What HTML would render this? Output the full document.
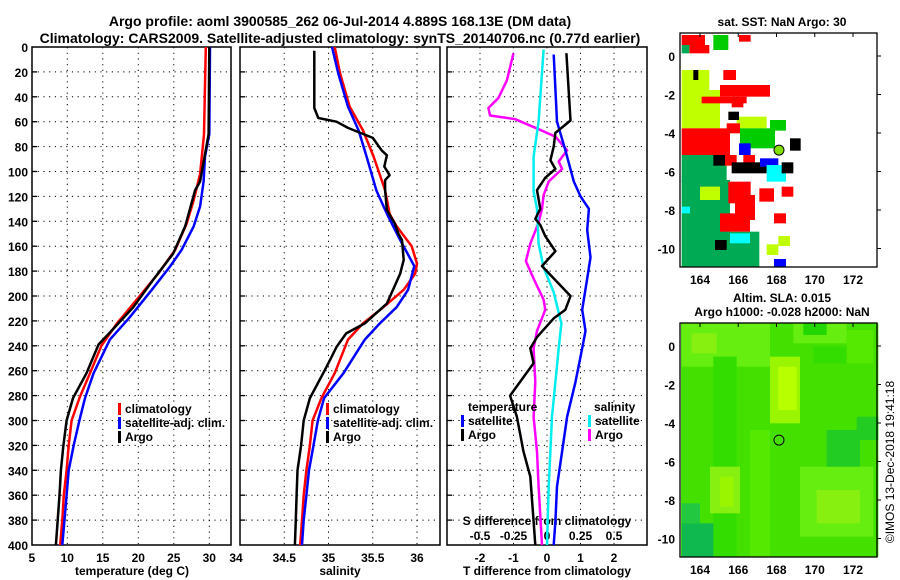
<!DOCTYPE html>
<html><head><meta charset="utf-8">
<style>
html,body{margin:0;padding:0;background:#fff;}
svg{display:block;font-family:"Liberation Sans",sans-serif;font-weight:bold;}
</style></head>
<body>
<svg id="c" width="900" height="580" viewBox="0 0 900 580">
<text x="340" y="26" text-anchor="middle" font-size="14">Argo profile: aoml 3900585_262 06-Jul-2014 4.889S 168.13E (DM data)</text>
<text x="340" y="43" text-anchor="middle" font-size="14">Climatology: CARS2009. Satellite-adjusted climatology: synTS_20140706.nc (0.77d earlier)</text>
<text x="132" y="575" text-anchor="middle" font-size="12">temperature (deg C)</text>
<text x="340" y="575" text-anchor="middle" font-size="12">salinity</text>
<text x="547" y="575" text-anchor="middle" font-size="12">T difference from climatology</text>
<text x="547" y="525" text-anchor="middle" font-size="12">S difference from climatology</text>
<text x="782" y="26" text-anchor="middle" font-size="12">sat. SST: NaN Argo: 30</text>
<text x="782" y="302" text-anchor="middle" font-size="12">Altim. SLA: 0.015</text>
<text x="782" y="316" text-anchor="middle" font-size="12">Argo h1000: -0.028 h2000: NaN</text>
<text x="0" y="0" transform="translate(894,462) rotate(-90)" text-anchor="middle" font-size="12" font-weight="normal">©IMOS 13-Dec-2018 19:41:18</text>
</svg>
<script>
// ---------- data ----------
const depthTicks=[0,20,40,60,80,100,120,140,160,180,200,220,240,260,280,300,320,340,360,380,400];
const tempTicks=[5,10,15,20,25,30];
const salTicks=[34,34.5,35,35.5,36];
const tdiffTicks=[-2,-1,0,1,2];
const sdiffTicks=[-0.5,-0.25,0,0.25,0.5];
const sdiffLabels=["-0.5","-0.25","0","0.25","0.5"];

const tClimDepth=[0,70,102,123,142,163,182,200,222,240,262,282,300,320,340,360,380,400];
const tClim=[29.5,29.25,28.7,27.8,26.8,25.2,22.8,20.2,17.0,14.8,13.2,11.7,10.6,10.2,9.9,9.5,9.3,9.0];
const tArgoDepth=[0,70,108,115,144,166,187,209,225,239,262,282,300,320,340,360,380,400];
const tArgo=[30.0,29.9,28.7,28.0,26.6,24.9,22.1,19.3,16.7,14.4,12.7,10.8,9.9,9.45,9.1,8.9,8.65,8.4];
const tSatDepth=[0,70,88,108,128,144,163,176,195,217,235,262,282,300,320,340,360,380,400];
const tSat=[30.1,30.0,29.4,29.2,28.7,27.8,26.1,24.5,21.9,18.8,16.0,13.7,12.5,11.7,10.9,10.2,9.9,9.6,9.3];

const sClimDepth=[0,21,48,67,88,115,134,144,160,174,182,195,209,222,235,262,282,300,320,340,360,380,400];
const sClim=[35.07,35.13,35.24,35.39,35.51,35.64,35.69,35.77,35.94,36.0,35.98,35.85,35.62,35.39,35.22,35.07,34.92,34.82,34.79,34.75,34.72,34.70,34.68];
const sSatDepth=[0,21,48,67,88,115,134,155,176,195,209,222,235,262,282,300,320,340,360,380,400];
const sSat=[35.04,35.11,35.22,35.34,35.43,35.54,35.66,35.81,35.97,35.9,35.77,35.58,35.41,35.17,34.95,34.88,34.83,34.78,34.75,34.72,34.70];
const sArgoDepth=[3,49,57,60,65,73,83,87,96,103,107,115,131,142,150,155,171,182,206,222,230,241,251,262,282,300,320,340,360,380,400];
const sArgo=[34.84,34.84,34.885,35.09,35.22,35.5,35.6,35.66,35.63,35.69,35.64,35.64,35.66,35.75,35.79,35.83,35.85,35.81,35.66,35.41,35.2,35.09,35.02,34.94,34.79,34.72,34.69,34.65,34.64,34.63,34.62];

const dTArgoDepth=[5,59,69,80,91,98,105,115,130,138,143,152,164,176,200,211,218,233,242,254,280,297,325,345,381,400];
const dTArgo=[0.58,0.7,0.25,0.2,0.1,0.25,-0.05,-0.3,-0.2,-0.35,-0.2,-0.05,0.25,-0.15,0.7,0.55,0.2,-0.3,-0.5,-0.4,-1.1,-0.9,-0.7,-0.5,-0.4,-0.35];
const dTSatDepth=[6,60,83,108,120,130,147,169,186,211,228,242,269,297,325,353,381,400];
const dTSat=[0.2,0.3,0.55,0.8,1.0,1.25,1.2,1.3,1.2,1.05,1.15,1.05,0.85,0.6,0.45,0.3,0.25,0.2];
const dSSatDepth=[2,60,88,116,130,158,177,197,222,242,269,297,353,400];
const dSSat=[-0.025,-0.0625,-0.1,-0.1,-0.075,-0.0625,-0.025,0.05,0.1075,0.0875,0.0625,0.0375,0.0125,0];
const dSArgoDepth=[5,27,41,49,55,58,66,72,83,92,98,108,119,130,141,158,172,186,203,211,228,242,269,297,325,353,400];
const dSArgo=[-0.25,-0.3,-0.3625,-0.4375,-0.425,-0.2375,-0.0625,0.0625,0.15,0.0875,0.1125,0.0125,-0.025,-0.0375,-0.0625,-0.125,-0.1575,-0.1,-0.025,-0.0125,-0.075,-0.1,-0.0875,-0.1,-0.075,-0.0625,-0.0375];

const lonTicks=[164,166,168,170,172];
const latTicks=[0,-2,-4,-6,-8,-10];
const argoLon=168.13, argoLat=-4.889;

// ---------- helpers ----------
const svg=document.getElementById('c');
const NS='http://www.w3.org/2000/svg';
function mk(tag,attrs){const e=document.createElementNS(NS,tag);for(const k in attrs)e.setAttribute(k,attrs[k]);svg.appendChild(e);return e;}
const PT=47,PB=545;
function yD(d){return PT+(PB-PT)*d/400;}
function lin(d0,d1,r0,r1){return v=>r0+(v-d0)*(r1-r0)/(d1-d0);}

function panel(name,x0,x1,xs,ticks,labels,showY){
  for(const t of depthTicks){
    if(t>0&&t<400){
      const g=mk('line',{x1:x0,x2:x1,y1:yD(t),y2:yD(t),stroke:'#000','stroke-width':1,'stroke-dasharray':'1.2,4.5'});
      
      
      const tk=mk('line',{x1:x0,x2:x0+5,y1:yD(t),y2:yD(t),stroke:'#000','stroke-width':1.3});
      
      
    }
    if(showY){
      const l=mk('text',{x:28,y:yD(t)+5,'text-anchor':'end','font-size':12});
      l.textContent=t;
      
      
    }
  }
  ticks.forEach((t,i)=>{
    const x=xs(t);
    if(x>x0+1&&x<x1-1){
      const g=mk('line',{x1:x,x2:x,y1:PT,y2:PB,stroke:'#000','stroke-width':1,'stroke-dasharray':'1.2,4.5'});
      
      
    }
    if(labels){
      const l=mk('text',{x:x,y:562,'text-anchor':'middle','font-size':12});
      l.textContent=labels[i];
      
      
    }
  });
  const f=mk('rect',{x:x0,y:PT,width:x1-x0,height:PB-PT,fill:'none',stroke:'#000','stroke-width':1.5});
  
  
}
function line(name,xs,vals,depths,color,w){
  const pts=vals.map((v,i)=>xs(v).toFixed(1)+','+yD(depths[i]).toFixed(1)).join(' ');
  const p=mk('polyline',{points:pts,fill:'none',stroke:color,'stroke-width':w,'stroke-linejoin':'round'});
  
  
}
function legend(name,x,y,color,text){
  const b=mk('rect',{x:x,y:y-10,width:3,height:12,fill:color});
  
  
  const t=mk('text',{x:x+7,y:y,'font-size':12});
  t.textContent=text;
  
  
}

// panel 1 temperature
const xT=lin(5,33,31.8,230.6);
panel('temperature-panel',32,231,xT,tempTicks,tempTicks.map(String),true);
const l35=mk('text',{x:236,y:562,'text-anchor':'middle','font-size':12});l35.textContent='34';


line('temp-climatology-line',xT,tClim,tClimDepth,'#f00',2.5);
line('temp-satellite-line',xT,tSat,tSatDepth,'#00f',2.5);
line('temp-argo-line',xT,tArgo,tArgoDepth,'#000',2.5);
legend('temp-legend-climatology',118,413,'#f00','climatology');
legend('temp-legend-satellite',118,427,'#00f','satellite-adj. clim.');
legend('temp-legend-argo',118,441,'#000','Argo');

// panel 2 salinity
const xS=lin(34,36,240,417);
panel('salinity-panel',240,440,xS,salTicks,null,false);
salTicks.slice(1).forEach(t=>{const l=mk('text',{x:xS(t),y:562,'text-anchor':'middle','font-size':12});l.textContent=String(t);

});
line('sal-climatology-line',xS,sClim,sClimDepth,'#f00',2.5);
line('sal-satellite-line',xS,sSat,sSatDepth,'#00f',2.5);
line('sal-argo-line',xS,sArgo,sArgoDepth,'#000',2.5);
legend('sal-legend-climatology',326,413,'#f00','climatology');
legend('sal-legend-satellite',326,427,'#00f','satellite-adj. clim.');
legend('sal-legend-argo',326,441,'#000','Argo');

// panel 3 differences
const xDT=lin(-3,3,446.5,647.5);
const xDS=lin(-0.75,0.75,446.5,647.5);
panel('difference-panel',447,647,xDT,tdiffTicks,tdiffTicks.map(String),false);
sdiffTicks.forEach((t,i)=>{const l=mk('text',{x:xDS(t),y:540,'text-anchor':'middle','font-size':12});l.textContent=sdiffLabels[i];

});
line('sdiff-argo-line',xDS,dSArgo,dSArgoDepth,'#f0f',2.5);
line('sdiff-satellite-line',xDS,dSSat,dSSatDepth,'#0ee',2.5);
line('tdiff-satellite-line',xDT,dTSat,dTSatDepth,'#00f',2.5);
line('tdiff-argo-line',xDT,dTArgo,dTArgoDepth,'#000',2.5);
const lt=mk('text',{x:468,y:411,'font-size':12});lt.textContent='temperature';


const ls=mk('text',{x:594,y:411,'font-size':12});ls.textContent='salinity';


legend('tdiff-legend-satellite',461,425,'#00f','satellite');
legend('tdiff-legend-argo',461,439,'#000','Argo');
legend('sdiff-legend-satellite',588,425,'#0ee','satellite');
legend('sdiff-legend-argo',588,439,'#f0f','Argo');

// ---------- maps ----------
function mapAxes(name,y0,y1){
  const xL=lin(164,172,700,853);
  const yL=lin(0,-10,y0+23,y0+23+192.5);
  return {xL,yL,draw(){
    lonTicks.forEach(t=>{
      const tk=mk('line',{x1:xL(t),x2:xL(t),y1:y0,y2:y0+4,stroke:'#000','stroke-width':1});
      
      
      const l=mk('text',{x:xL(t),y:y1+17,'text-anchor':'middle','font-size':12});l.textContent=t;
      
      
    });
    latTicks.forEach(t=>{
      const tk=mk('line',{x1:877,x2:881,y1:yL(t),y2:yL(t),stroke:'#000','stroke-width':1});
      
      
      const l=mk('text',{x:675,y:yL(t)+5,'text-anchor':'end','font-size':12});l.textContent=t;
      
      
    });
    const f=mk('rect',{x:680,y:y0,width:197,height:y1-y0,fill:'none',stroke:'#000','stroke-width':1.3});
    
    
  }};
}
// SST map cells (zoom coords of reference, /3)
const R='#f00',Y='#c0ff00',G='#00cc00',GG='#00aa55',B='#0000ff',K='#000',C='#00ffff';
const sstCells=[[65,540,210,800,GG],[65,465,200,545,GG],[200,695,298,800,GG],
[65,105,135,135,R],[237,105,272,125,R],[88,135,148,160,R],[160,105,205,150,G],[65,135,88,160,GG],
[65,210,148,270,Y],[65,270,180,330,Y],[180,255,330,290,R],[125,290,260,310,R],[190,210,228,240,R],[215,305,250,322,R],
[65,330,180,385,Y],[230,350,320,385,Y],[65,385,210,465,R],[200,370,240,400,R],[240,385,345,445,G],[330,360,378,392,G],
[237,430,272,465,B],[390,415,422,452,K],[205,335,237,360,K],[100,210,115,240,K],
[160,465,195,497,K],[195,465,230,497,R],[250,465,285,497,R],[215,487,320,520,K],[300,475,355,500,B],[320,495,378,545,C],[365,487,400,520,K],
[205,545,272,610,R],[225,585,285,660,R],[180,640,270,695,R],[298,565,342,605,R],[365,560,400,590,R],[342,640,378,670,R],
[355,708,390,738,Y],[320,733,355,765,Y],[342,777,378,800,B],[165,720,200,750,K],[120,560,180,600,Y],[65,620,90,640,C],[210,700,270,730,C]];
const m1=mapAxes('sst-map',33,267);
sstCells.forEach(c=>{const r=mk('rect',{x:660+c[0]/3,y:c[1]/3,width:(c[2]-c[0])/3,height:(c[3]-c[1])/3,fill:c[4]});

});
m1.draw();
const ap=mk('circle',{cx:m1.xL(argoLon),cy:m1.yL(argoLat),r:5,fill:'#80e000',stroke:'#000','stroke-width':1});



// SLA map
const slaCells=[[63,100,655,800,'#44e000'],[65,100,330,230,'#66ee10'],[95,130,170,190,'#88f010'],[330,200,420,400,'#99f500'],[355,230,410,360,'#b8ff00'],
[400,100,560,160,'#66ee10'],[430,100,500,135,'#22d800'],[160,200,230,800,'#33dd00'],[150,530,240,670,'#88f010'],[180,560,220,650,'#99f500'],
[270,420,330,800,'#55e800'],[420,530,640,740,'#66ee10'],[470,600,600,700,'#88f010'],[500,420,600,530,'#22cc22'],[590,380,655,450,'#22cc22'],
[65,700,160,800,'#10b850'],[65,640,120,700,'#22c840'],[460,170,560,220,'#33dd00'],[560,120,640,220,'#55e800']];
const m2=mapAxes('sla-map',323,557);
slaCells.forEach(c=>{const r=mk('rect',{x:660+c[0]/3,y:290+c[1]/3,width:(c[2]-c[0])/3,height:(c[3]-c[1])/3,fill:c[4]});

});
m2.draw();
const ap2=mk('circle',{cx:m2.xL(argoLon),cy:m2.yL(argoLat),r:5,fill:'none',stroke:'#000','stroke-width':1});


</script>
</body></html>
